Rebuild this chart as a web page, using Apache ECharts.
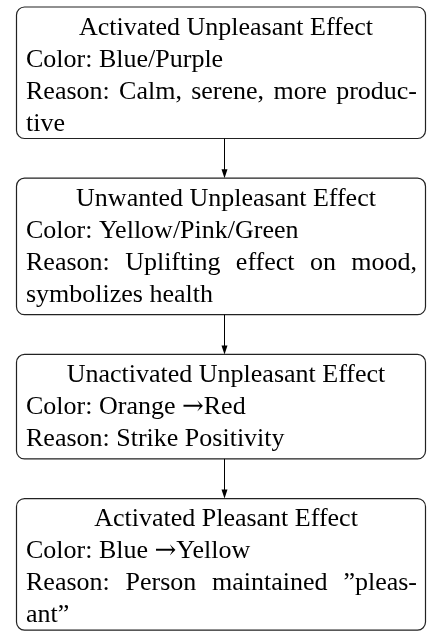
<!DOCTYPE html>
<html>
<head>
<meta charset="utf-8">
<script src="https://cdn.jsdelivr.net/npm/echarts@6/dist/echarts.min.js"></script>
<style>
  html, body { margin: 0; padding: 0; background: #fff; }
  #chart { width: 427px; height: 631px; }
</style>
</head>
<body>
<div id="chart"></div>
<script>
// flow steps, top to bottom
const titles = [
    'Activated Unpleasant Effect',
    'Unwanted Unpleasant Effect',
    'Unactivated Unpleasant Effect',
    'Activated Pleasant Effect'
]
const colorNames = ['Blue/Purple', 'Yellow/Pink/Green', 'Orange \u2192Red', 'Blue \u2192Yellow']
// reason text, already broken into lines (last line of each is ragged)
const reasonLines = [
    ['Reason: Calm, serene, more produc-', 'tive'],
    ['Reason: Uplifting effect on mood,', 'symbolizes health'],
    ['Reason: Strike Positivity'],
    ['Reason: Person maintained \u201Dpleas-', 'ant\u201D']
]

// layout
const FONT_SIZE = 26
const FAMILY = '"Liberation Serif", "Times New Roman", serif'
const FONT = FONT_SIZE + 'px ' + FAMILY
const BOX_LEFT = 16.5
const BOX_RIGHT = 425.5
const TEXT_LEFT = 26
const TEXT_RIGHT = 417
const TITLE_CENTER = 226
const ARROW_X = 224.5
const TOP0 = 7
const GAP = 39.7
const LINE_STEP = 32
const FIRST_BASE = 28.5
const BOTTOM_PAD = 7
const DEPTH = 5
const MID_SHIFT = 0.3375 * FONT_SIZE - 1   // baseline -> canvas 'middle'
const INK = '#000'
const BORDER = '#222'

const measureCtx = document.createElement('canvas').getContext('2d')
measureCtx.font = FONT
function textWidth(s) { return measureCtx.measureText(s).width }

function textEl(str, x, baseline, align) {
    const style = {
        text: str,
        font: FONT,
        fill: INK,
        align: align || 'left',
        verticalAlign: 'middle'
    }
    if (str.indexOf('\u2192') >= 0) {
        // math arrow is wider than the text font's one
        const parts = str.split('\u2192')
        style.text = '{n|' + parts[0] + '}{a|\u2192}{n|' + parts[1] + '}'
        style.rich = {
            n: { font: FONT, fill: INK },
            a: { font: FONT_SIZE + 'px "DejaVu Serif", serif', fill: INK }
        }
    }
    return {
        type: 'text',
        x: x,
        y: baseline - MID_SHIFT,
        style: style,
        silent: true
    }
}

// justified line: spread words across the text width
function justified(str, baseline) {
    const words = str.split(' ')
    const widths = words.map(textWidth)
    const total = widths.reduce((a, b) => a + b, 0)
    const space = words.length > 1 ? (TEXT_RIGHT - TEXT_LEFT - total) / (words.length - 1) : 0
    const out = []
    let x = TEXT_LEFT
    words.forEach((w, i) => {
        out.push(textEl(w, x, baseline, 'left'))
        x += widths[i] + space
    })
    return out
}

function buildGraphics() {
    const els = []
    let top = TOP0
    let prevBottom = null
    titles.forEach((title, i) => {
        const nLines = 2 + reasonLines[i].length
        const last = reasonLines[i][reasonLines[i].length - 1]
        const depth = /[gjpqy]/.test(last) ? DEPTH : 0
        const height = FIRST_BASE + (nLines - 1) * LINE_STEP + BOTTOM_PAD + depth

        if (prevBottom !== null) {
            // connector arrow
            els.push({
                type: 'line',
                shape: { x1: ARROW_X, y1: prevBottom, x2: ARROW_X, y2: top - 6 },
                style: { stroke: INK, lineWidth: 1 },
                silent: true
            })
            els.push({
                type: 'polygon',
                shape: { points: [[ARROW_X - 3, top - 9], [ARROW_X + 3, top - 9], [ARROW_X, top]] },
                style: { fill: INK },
                silent: true
            })
        }

        els.push({
            type: 'rect',
            shape: { x: BOX_LEFT, y: top, width: BOX_RIGHT - BOX_LEFT, height: height, r: 8 },
            style: { fill: '#fff', stroke: BORDER, lineWidth: 1.2 },
            silent: true
        })

        let base = top + FIRST_BASE
        els.push(textEl(title, TITLE_CENTER, base, 'center'))
        base += LINE_STEP
        els.push(textEl('Color: ' + colorNames[i], TEXT_LEFT, base, 'left'))
        reasonLines[i].forEach((ln, k) => {
            base += LINE_STEP
            const isLast = k === reasonLines[i].length - 1
            if (isLast) {
                els.push(textEl(ln, TEXT_LEFT, base, 'left'))
            } else {
                justified(ln, base).forEach(e => els.push(e))
            }
        })

        prevBottom = top + height
        top = prevBottom + GAP
    })
    return els
}

const chart = echarts.init(document.getElementById('chart'), null, { renderer: 'canvas' })
chart.setOption({
    backgroundColor: '#fff',
    animation: false,
    graphic: { elements: buildGraphics() }
})
</script>
</body>
</html>
